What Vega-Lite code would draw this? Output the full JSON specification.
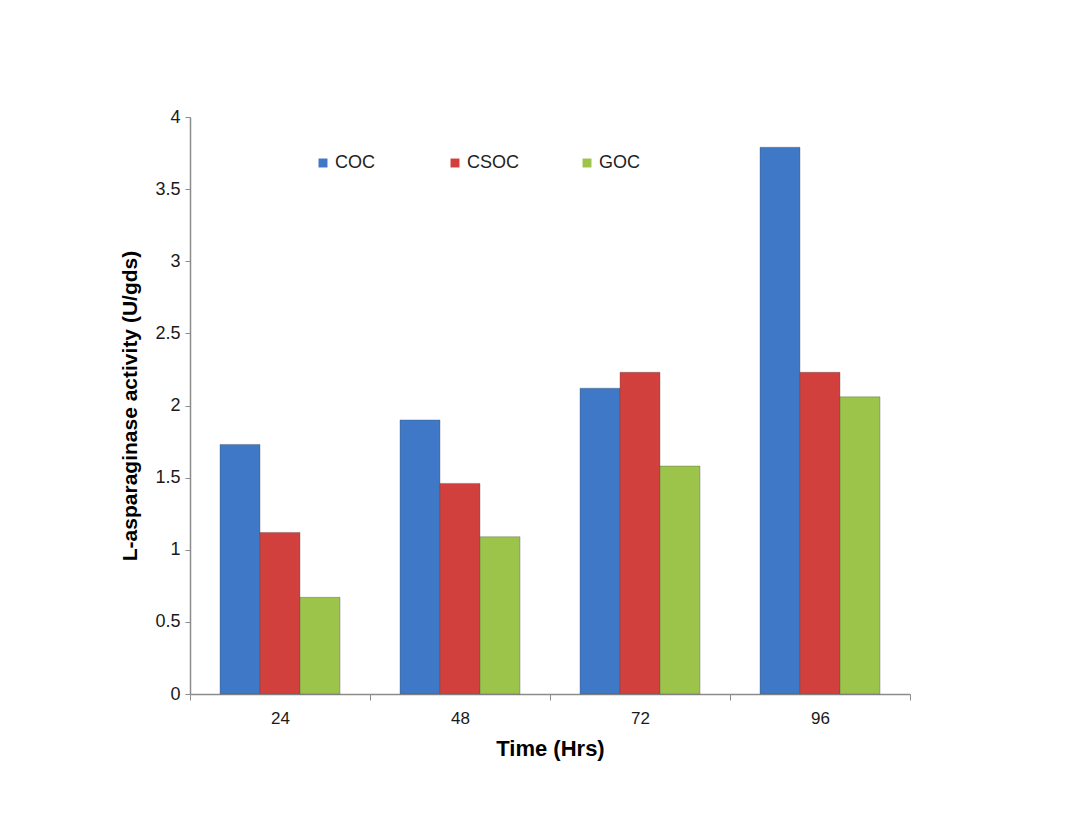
{
  "$schema": "https://vega.github.io/schema/vega-lite/v6.json",
  "autosize": "none",
  "width": 720,
  "height": 577,
  "padding": {"left": 190, "top": 117, "right": 163, "bottom": 140},
  "background": "white",
  "config": {
    "view": {"stroke": null},
    "font": "Liberation Sans"
  },
  "data": {
    "values": [
      {"time": "24", "series": "COC", "value": 1.73},
      {"time": "24", "series": "CSOC", "value": 1.12},
      {"time": "24", "series": "GOC", "value": 0.67},
      {"time": "48", "series": "COC", "value": 1.90},
      {"time": "48", "series": "CSOC", "value": 1.46},
      {"time": "48", "series": "GOC", "value": 1.09},
      {"time": "72", "series": "COC", "value": 2.12},
      {"time": "72", "series": "CSOC", "value": 2.23},
      {"time": "72", "series": "GOC", "value": 1.58},
      {"time": "96", "series": "COC", "value": 3.79},
      {"time": "96", "series": "CSOC", "value": 2.23},
      {"time": "96", "series": "GOC", "value": 2.06}
    ]
  },
  "mark": {"type": "bar", "stroke": "#4a4a4a", "strokeOpacity": 0.35, "strokeWidth": 1},
  "encoding": {
    "x": {
      "field": "time",
      "type": "nominal",
      "sort": null,
      "scale": {"paddingInner": 0, "paddingOuter": 0},
      "axis": {
        "title": "Time (Hrs)",
        "titleFontSize": 22,
        "titleFontWeight": "bold",
        "titleColor": "#000000",
        "titlePadding": 12,
        "labelAngle": 0,
        "labelFontSize": 17,
        "labelColor": "#1a1a1a",
        "labelPadding": 10,
        "tickBand": "extent",
        "tickColor": "#8c8c8c",
        "tickSize": 6,
        "domainColor": "#8c8c8c",
        "domainWidth": 1.5
      }
    },
    "xOffset": {"field": "series", "type": "nominal", "sort": ["COC", "CSOC", "GOC"], "scale": {"paddingInner": 0, "paddingOuter": 0.75}},
    "y": {
      "field": "value",
      "type": "quantitative",
      "scale": {"domain": [0, 4], "nice": false},
      "axis": {
        "title": "L-asparaginase activity (U/gds)",
        "titleFontSize": 21,
        "titleFontWeight": "bold",
        "titleColor": "#000000",
        "titlePadding": 14,
        "values": [0, 0.5, 1, 1.5, 2, 2.5, 3, 3.5, 4],
        "format": "~g",
        "labelFontSize": 18,
        "labelColor": "#1a1a1a",
        "labelPadding": 5,
        "grid": false,
        "tickColor": "#8c8c8c",
        "tickSize": 5,
        "domainColor": "#8c8c8c",
        "domainWidth": 1.5
      }
    },
    "color": {
      "field": "series",
      "type": "nominal",
      "sort": ["COC", "CSOC", "GOC"],
      "scale": {"domain": ["COC", "CSOC", "GOC"], "range": ["#3f78c6", "#d2403d", "#9dc44a"]},
      "legend": {
        "title": null,
        "orient": "none",
        "legendX": 124,
        "legendY": 37,
        "direction": "horizontal",
        "symbolType": "square",
        "symbolSize": 80,
        "symbolStrokeWidth": 0,
        "labelFontSize": 18,
        "labelColor": "#222222",
        "labelOffset": 3,
        "gridAlign": "all",
        "columnPadding": 58
      }
    }
  }
}
